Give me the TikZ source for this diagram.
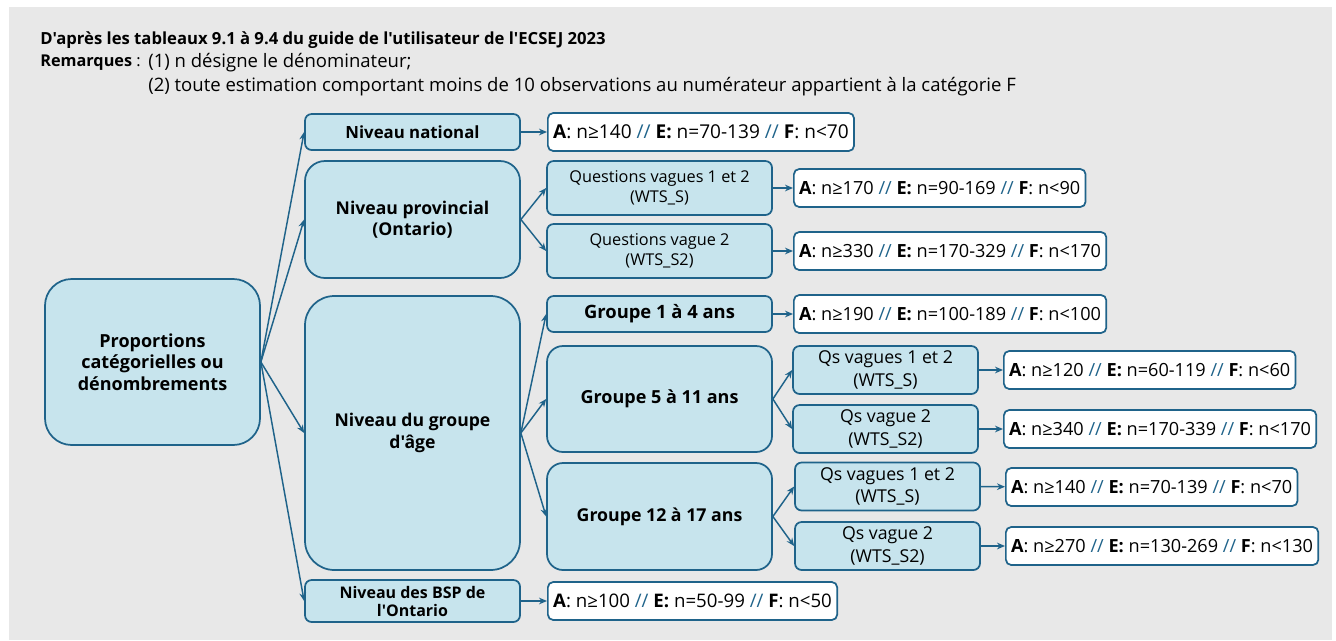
\documentclass[tikz,border=0pt]{standalone}
\usepackage{fontspec}
\setmainfont{Open Sans}[Ligatures={TeXOff}]
\usetikzlibrary{arrows.meta}
\definecolor{edge}{RGB}{31,99,138}
\definecolor{boxfill}{RGB}{199,228,237}
\definecolor{bg}{RGB}{232,232,232}
\newcommand{\cotes}[3]{\textbf{A}: n≥#1 {\color{edge}//} \textbf{E:} n=#2 {\color{edge}//} \textbf{F}: n<#3}

\begin{document}
\begin{tikzpicture}[x=0.75pt, y=-0.75pt,
  lvl/.style={draw=edge, fill=boxfill, line width=1.3pt, align=center, inner sep=2pt, font=\bfseries\fontsize{13.2}{16}\selectfont},
  res/.style={draw=edge, fill=white, line width=1.3pt, rounded corners=4pt, anchor=west, minimum height=28.5pt, inner xsep=4pt, font=\fontsize{13.6}{16}\selectfont},
  arr/.style={draw=edge, line width=1.1pt, -{Stealth[length=6pt, width=5pt]}}]
\tikzstyle{qbox}=[lvl, font=\fontsize{12.2}{15}\selectfont, rounded corners=5pt]
\tikzstyle{qsbox}=[qbox, font=\fontsize{13.3}{17}\selectfont, minimum width=138.75pt, minimum height=36pt]
\useasboundingbox (0,0) rectangle (1336,640);
\fill[bg] (9,7) rectangle (1332,640);
% en-tete
\node[anchor=west, inner sep=0pt, font=\bfseries\fontsize{12.5}{14}\selectfont] (titre) at (40,40) {D'après les tableaux 9.1 à 9.4 du guide de l'utilisateur de l'ECSEJ 2023};
\node[anchor=west, inner sep=0pt, font=\fontsize{12.2}{14}\selectfont] (rem) at (40,63) {\textbf{Remarques} :};
\node[anchor=west, inner sep=0pt, font=\fontsize{13.9}{14}\selectfont] (rem1) at (148,63) {(1) n désigne le dénominateur;};
\node[anchor=west, inner sep=0pt, font=\fontsize{13.9}{14}\selectfont] (rem2) at (148,87) {(2) toute estimation comportant moins de 10 observations au numérateur appartient à la catégorie F};
% arbre
\node[lvl, rounded corners=20pt, minimum width=161.25pt, minimum height=124.5pt, font=\bfseries\fontsize{13.5}{16}\selectfont] (racine) at (152.5,362) {Proportions\\catégorielles ou\\dénombrements};
\node[lvl, rounded corners=5pt, minimum width=161.25pt, minimum height=27pt, font=\bfseries\fontsize{12.6}{15}\selectfont] (nat) at (412.5,132) {Niveau national};
\node[lvl, rounded corners=15pt, minimum width=161.25pt, minimum height=87.75pt] (prov) at (412.5,219.5) {Niveau provincial\\(Ontario)};
\node[lvl, rounded corners=22pt, minimum width=161.25pt, minimum height=205.5pt] (age) at (412.5,433) {Niveau du groupe\\d'âge};
\node[lvl, rounded corners=5pt, minimum width=161.25pt, minimum height=31.5pt, font=\bfseries\fontsize{12}{13.5}\selectfont] (bsp) at (412.5,601) {Niveau des BSP de\\l'Ontario};
\node[qbox, minimum width=168.75pt, minimum height=40.5pt] (pq12) at (659.5,188) {Questions vagues 1 et 2\\(WTS\_S)};
\node[qbox, minimum width=168.75pt, minimum height=40.5pt] (pq2) at (659.5,251) {Questions vague 2\\(WTS\_S2)};
\node[lvl, rounded corners=5pt, minimum width=168.75pt, minimum height=27pt, font=\bfseries\fontsize{13.8}{15}\selectfont] (g1) at (659.5,314) {Groupe 1 à 4 ans};
\node[lvl, rounded corners=12pt, minimum width=168.75pt, minimum height=79.5pt, font=\bfseries\fontsize{13.5}{16}\selectfont] (g5) at (659.5,399) {Groupe 5 à 11 ans};
\node[lvl, rounded corners=12pt, minimum width=168.75pt, minimum height=80.25pt, font=\bfseries\fontsize{13.3}{16}\selectfont] (g12) at (659.5,516.5) {Groupe 12 à 17 ans};
\node[qsbox] (g5q12) at (885.5,370) {Qs vagues 1 et 2\\(WTS\_S)};
\node[qsbox] (g5q2) at (885.5,429) {Qs vague 2\\(WTS\_S2)};
\node[qsbox] (g12q12) at (887.5,486.5) {Qs vagues 1 et 2\\(WTS\_S)};
\node[qsbox] (g12q2) at (887.5,546) {Qs vague 2\\(WTS\_S2)};
% seuils
\node[res, font=\fontsize{14.3}{16}\selectfont] (rnat) at (547,132) {\cotes{140}{70-139}{70}};
\node[res] (rpq12) at (793,188) {\cotes{170}{90-169}{90}};
\node[res] (rpq2) at (793,251) {\cotes{330}{170-329}{170}};
\node[res] (rg1) at (793,314) {\cotes{190}{100-189}{100}};
\node[res] (rg5q12) at (1003,370) {\cotes{120}{60-119}{60}};
\node[res] (rg5q2) at (1003,429) {\cotes{340}{170-339}{170}};
\node[res] (rg12q12) at (1005,487) {\cotes{140}{70-139}{70}};
\node[res] (rg12q2) at (1005,546) {\cotes{270}{130-269}{130}};
\node[res, font=\fontsize{14}{16}\selectfont] (rbsp) at (547,601) {\cotes{100}{50-99}{50}};
\foreach \i/\j in {racine/nat,racine/prov,racine/age,racine/bsp,prov/pq12,prov/pq2,age/g1,age/g5,age/g12,g5/g5q12,g5/g5q2,g12/g12q12,g12/g12q2}{\draw[arr] (\i.east) -- (\j.west);}
\foreach \i/\j in {nat/rnat,pq12/rpq12,pq2/rpq2,g1/rg1,g5q12/rg5q12,g5q2/rg5q2,g12q12/rg12q12,g12q2/rg12q2,bsp/rbsp}{\draw[arr] (\i) -- (\j);}
\end{tikzpicture}
\end{document}
